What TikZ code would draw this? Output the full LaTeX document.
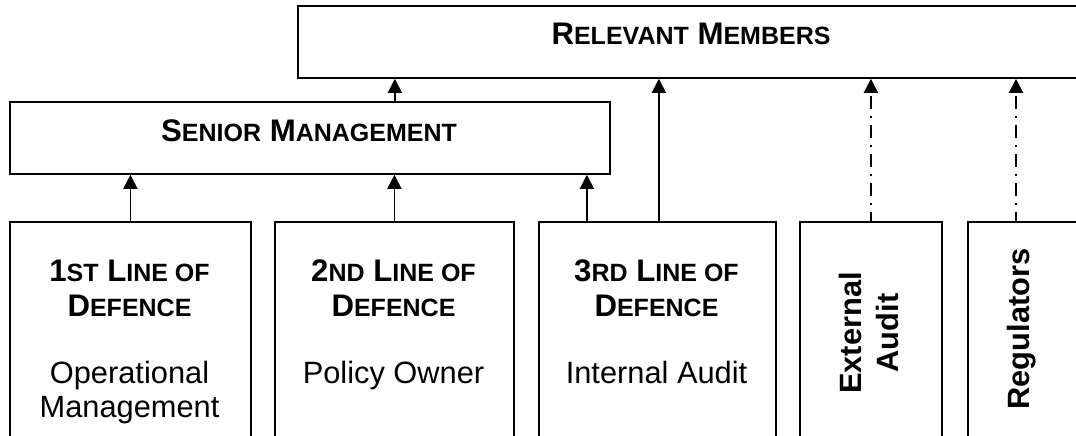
\documentclass[tikz,border=0pt]{standalone}
\usepackage{fontspec}
\setmainfont{Liberation Sans}
\usetikzlibrary{arrows.meta}
\newcommand\smcap[1]{{\fontsize{25}{25}\selectfont #1}}
\begin{document}
\begin{tikzpicture}[x=1pt,y=-1pt,
  box/.style={draw,line width=1.8pt,rectangle,inner sep=0pt,anchor=north west},
  hd/.style={font=\fontsize{31.2}{35}\selectfont\bfseries,inner sep=0pt,anchor=base},
  tx/.style={font=\fontsize{30.8}{34}\selectfont,inner sep=0pt,anchor=base},
  vt/.style={font=\fontsize{30.8}{37}\selectfont\bfseries,inner sep=0pt,rotate=90,align=center},
  arr/.style={line width=1.8pt,-{Triangle[width=14pt,length=14pt]}},
  darr/.style={line width=1.8pt,-{Triangle[width=14pt,length=14pt]},dash pattern=on 13pt off 7pt on 2pt off 7pt,dash phase=4pt}]
\useasboundingbox (0,0) rectangle (1076,436);
\fill[white] (0,0) rectangle (1076,436);
\clip (0,0) rectangle (1076,436);
% boxes
\node[box,minimum width=800pt,minimum height=72pt] (rel) at (297,5) {};
\node[box,minimum width=600pt,minimum height=72pt] (sen) at (9,101) {};
\node[box,minimum width=241pt,minimum height=240pt] (b1) at (9,221) {};
\node[box,minimum width=239pt,minimum height=240pt] (b2) at (274,221) {};
\node[box,minimum width=237pt,minimum height=240pt] (b3) at (538,221) {};
\node[box,minimum width=142pt,minimum height=240pt] (b4) at (799,221) {};
\node[box,minimum width=150pt,minimum height=240pt] (b5) at (967,221) {};
% texts
\node[hd] (trel) at (691,45) {R\smcap{ELEVANT} M\smcap{EMBERS}};
\node[hd] (tsen) at (309,141) {S\smcap{ENIOR} M\smcap{ANAGEMENT}};
\node[hd] (t1a) at (129.5,281) {1\smcap{ST} L\smcap{INE OF}};
\node[hd] (t1b) at (129.5,316) {D\smcap{EFENCE}};
\node[tx] (t1c) at (129.5,383) {Operational};
\node[tx] (t1d) at (129.5,417) {Management};
\node[hd] (t2a) at (393.5,281) {2\smcap{ND} L\smcap{INE OF}};
\node[hd] (t2b) at (393.5,316) {D\smcap{EFENCE}};
\node[tx] (t2c) at (393.5,383) {Policy Owner};
\node[hd] (t3a) at (656.5,281) {3\smcap{RD} L\smcap{INE OF}};
\node[hd] (t3b) at (656.5,316) {D\smcap{EFENCE}};
\node[tx] (t3c) at (656.5,383) {Internal Audit};
\node[vt] (t4) at (869,333) {External\\Audit};
\node[vt] (t5) at (1022,329) {Regulators};
% connectors
\draw[arr] (b1.north) -- (b1.north |- sen.south);
\draw[arr] (b2.north) -- (b2.north |- sen.south);
\draw[arr] ([xshift=-70.5pt]b3.north) -- ([xshift=-70.5pt]b3.north |- sen.south);
\draw[arr] ([xshift=1.5pt]b3.north) -- ([xshift=1.5pt]b3.north |- rel.south);
\draw[arr] ([xshift=85pt]sen.north) -- ([xshift=85pt]sen.north |- rel.south);
\draw[darr] (b4.north) -- (b4.north |- rel.south);
\draw[darr] ([xshift=49pt]b5.north west) -- ([xshift=49pt]b5.north west |- rel.south);
\end{tikzpicture}
\end{document}
